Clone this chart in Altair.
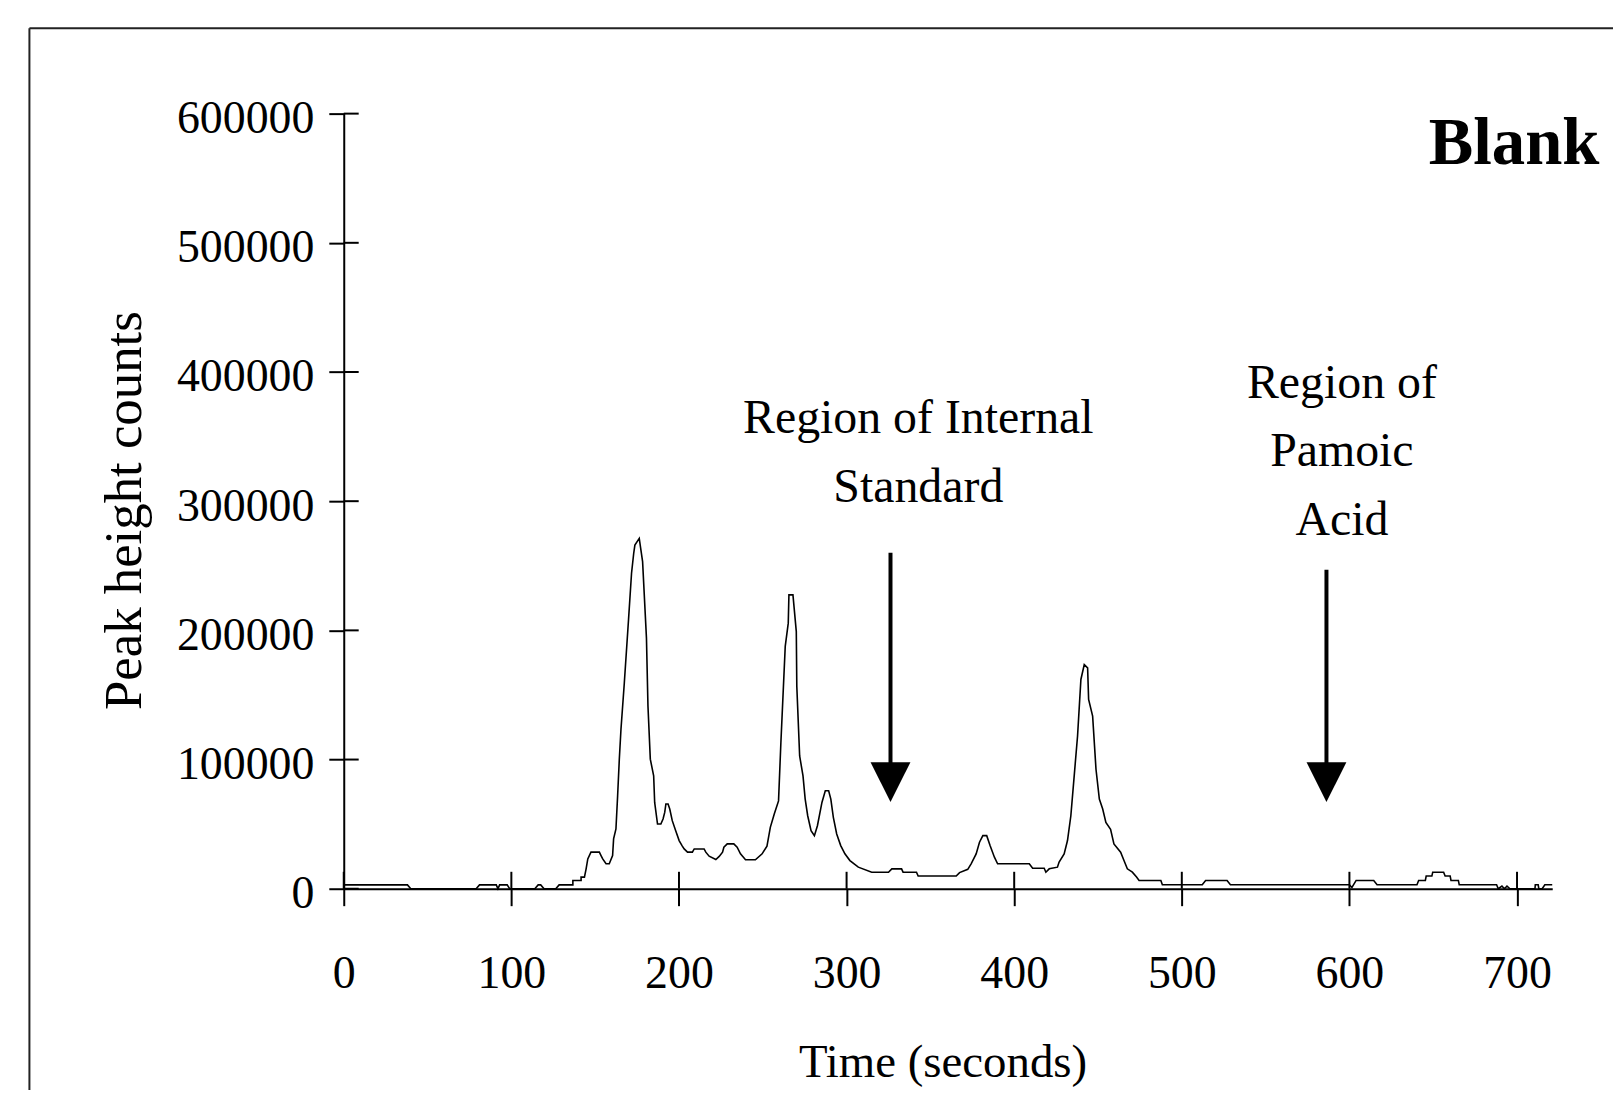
import altair as alt
import pandas as pd

# ---- data (time in s, peak height counts) ----
time_s = [
    0, 38, 40, 79, 81, 91, 92, 93, 97.5, 99, 114, 116, 117.5, 119.5, 126.5, 128.5,
    136.7, 136.7, 141.6, 141.6, 143.6, 144.6, 145.6, 147.5, 152.5, 153.5, 154.5,
    156.5, 158.4, 160.4, 161, 162.4, 163.4, 164.4, 165.4, 167.4, 169.9, 171.7, 173,
    173.7, 176.3, 178.3, 180.6, 181.5, 182.9, 184.9, 185.5, 187.2, 189.2, 190.5,
    191.5, 192.2, 193.5, 194.5, 196, 198, 200.1, 202, 203.1, 205.1, 208, 209.1, 215,
    216, 218, 222, 224, 226, 226.8, 228.8, 232.7, 234.7, 236.7, 239.7, 245.6, 249.6,
    252.5, 254.5, 256.9, 259.4, 260.8, 263.4, 265.2, 265.6, 268, 270, 270.3, 272,
    274, 275.3, 276.8, 278.8, 280.8, 282.6, 285.3, 287.3, 289.3, 290.6, 292.1,
    294.1, 296.5, 299, 302, 307, 315, 325, 327, 332.8, 333.7, 341.7, 342.7, 365.4,
    367.4, 372.3, 374.3, 377.3, 379.3, 381.3, 383.6, 385.6, 388.2, 390.1, 409, 411,
    417.9, 418.9, 420.9, 425.8, 426.8, 429.8, 431.8, 433.8, 435.8, 437.8, 439.8,
    441.8, 443.8, 444.4, 446.8, 448.8, 450.8, 452.8, 454.7, 457.5, 459.5, 463.5,
    465.5, 467.5, 470.5, 473, 474.5, 487.5, 488.4, 512.2, 514.2, 527, 529, 600,
    601.5, 604, 614.5, 616.5, 640.3, 641.3, 645.3, 645.8, 649.2, 649.7, 656.2,
    657.1, 660.1, 660.6, 665, 665.5, 687.8, 688.8, 691, 692.5, 694, 695.8, 710.7,
    710.9, 712.6, 713, 715, 716.6, 721,
]
counts = [
    3000, 3000, 0, 0, 3000, 3000, 0, 3000, 3000, 0, 0, 3000, 3000, 0, 0, 3000,
    3000, 6400, 6400, 9000, 9000, 15400, 23100, 28300, 28300, 25700, 23100,
    19300, 19300, 25700, 38600, 46300, 72000, 100000, 123400, 159400, 208200, 244200, 259700,
    266000, 271200, 253200, 194100, 141400, 100300, 87400, 66800, 50100, 50100, 54000,
    59100, 65600, 65600, 61700, 52700, 45000, 37300, 33000, 30800, 28300, 28300, 30800, 30800,
    28300, 25200, 22600, 25000, 28300, 32100, 34700, 34700, 32100, 27000, 22400, 22400, 27000,
    33000, 47500, 58000, 68000, 113000, 187600, 205600, 227500, 227500, 199000, 156800, 102800,
    87400, 69400, 56500, 45000, 41100, 48800, 66800, 75800, 75800, 69400, 55300,
    42400, 33400, 27000, 21800, 16700, 12800, 12800, 15400, 15400, 12800, 12800, 9800, 9800,
    12500, 15000, 19300, 27000, 36000, 41100, 41100, 33400, 24400, 19300, 19300, 15900,
    15900, 12800, 15400, 16700, 20600, 27000, 37300, 56500, 87400, 118200, 162000,
    173500, 171000, 146500, 133600, 92500, 69400, 61700, 51400, 46000, 34700, 28300,
    21800, 15400, 12800, 9000, 6400, 6400, 3100, 3100, 6400, 6400, 3100, 3100,
    1000, 6400, 6400, 3100, 3100, 6400, 6400, 9800, 9800, 12800, 12800,
    9800, 9800, 6400, 6400, 3100, 3100, 0, 2000, 0, 2000, 0, 0,
    3100, 3100, 0, 0, 3100, 3100,
]

x_ticks = [0, 100, 200, 300, 400, 500, 600, 700]
y_ticks = [0, 100000, 200000, 300000, 400000, 500000, 600000]

# arrows marking the regions (time, shaft top count, arrow head count)
arrow_time = [326.2, 586.3]
arrow_top = [260000, 247000]
arrow_head = [82500, 82500]

# annotation text lines, anchored in data units (time, counts)
label_lines = ["Region of Internal", "Standard", "Region of", "Pamoic", "Acid"]
label_time = [342.8, 342.8, 595.5, 595.5, 595.5]
label_count = [352400, 299200, 380200, 327000, 273800]
panel_label = "Blank"

FONT = "Liberation Serif"
W, H = 1213, 778
X_MAX = 721

df = pd.DataFrame({"t": time_s, "v": counts, "i": list(range(len(time_s)))})
xs = alt.Scale(domain=[0, X_MAX], nice=False, zero=False)
ys = alt.Scale(domain=[0, 600000], nice=False)

x_axis = alt.Axis(
    values=x_ticks, format="d", title="Time (seconds)", grid=False,
    tickSize=17, tickWidth=2, tickColor="black", domainColor="black", domainWidth=2,
    labelFont=FONT, labelFontSize=46, labelColor="black", labelPadding=82,
    labelBaseline="alphabetic", labelFlush=False, labelOverlap=False,
    titleFont=FONT, titleFontSize=47, titleFontWeight="normal", titleColor="black",
    titleX=601, titleY=188, titleBaseline="alphabetic", titleAlign="center",
)
y_axis = alt.Axis(
    values=y_ticks, format="d", title="Peak height counts", grid=False,
    tickSize=15, tickWidth=2, tickColor="black", domainColor="black", domainWidth=2,
    labelFont=FONT, labelFontSize=46, labelColor="black", labelPadding=15,
    labelBaseline="alphabetic", labelOffset=19, labelFlush=False, labelOverlap=False,
    titleFont=FONT, titleFontSize=53, titleFontWeight="normal", titleColor="black",
    titleX=-204, titleY=398, titleAngle=270, titleBaseline="alphabetic", titleAlign="center",
)


def X(field):
    return alt.X(field, scale=xs, axis=x_axis)


def Y(field):
    return alt.Y(field, scale=ys, axis=y_axis)


trace = alt.Chart(df).mark_line(color="black", strokeWidth=1.6).encode(
    x=X("t:Q"), y=Y("v:Q"), order=alt.Order("i:Q"),
)

inner_y = alt.Chart(pd.DataFrame({"v": y_ticks})).mark_rule(color="black", strokeWidth=2).encode(
    y=Y("v:Q"), x=alt.value(0), x2=alt.value(15)
)
inner_x = alt.Chart(pd.DataFrame({"t": x_ticks})).mark_rule(color="black", strokeWidth=2).encode(
    x=X("t:Q"), y=alt.value(H), y2=alt.value(H - 17)
)

arr = pd.DataFrame({"t": arrow_time, "top": arrow_top, "head": arrow_head})
shaft = alt.Chart(arr).mark_rule(color="black", strokeWidth=4).encode(
    x=X("t:Q"), y=Y("top:Q"), y2="head:Q",
)
head = alt.Chart(arr).mark_point(
    shape="M-1,-1L1,-1L0,1Z", size=1600, filled=True, color="black", opacity=1, strokeWidth=0
).encode(x=X("t:Q"), y=Y("head:Q"))

ann = pd.DataFrame({"text": label_lines, "t": label_time, "v": label_count})
ann_text = alt.Chart(ann).mark_text(
    font=FONT, fontSize=48, color="black", align="center", baseline="alphabetic"
).encode(x=X("t:Q"), y=Y("v:Q"), text="text:N")

blank = alt.Chart(pd.DataFrame({"text": [panel_label]})).mark_text(
    font=FONT, fontSize=67, fontWeight="bold", color="black", align="left", baseline="alphabetic"
).encode(x=alt.value(1089), y=alt.value(51), text="text:N")

one = pd.DataFrame({"a": [0]})
frame_top = alt.Chart(one).mark_rule(color="#222222", strokeWidth=2).encode(
    x=alt.value(-315.5), x2=alt.value(1274), y=alt.value(-85.7)
)
frame_left = alt.Chart(one).mark_rule(color="#222222", strokeWidth=2).encode(
    x=alt.value(-315.5), y=alt.value(-85.7), y2=alt.value(980)
)

chart = alt.layer(
    trace, inner_y, inner_x, shaft, head, ann_text, blank, frame_top, frame_left
).properties(
    width=W, height=H,
    autosize=alt.AutoSizeParams(type="none"),
    padding={"left": 337, "top": 104, "right": 62, "bottom": 200},
    background="white",
).configure_view(stroke=None)

chart.save("out.html", embed_options={"renderer": "svg", "actions": False})
